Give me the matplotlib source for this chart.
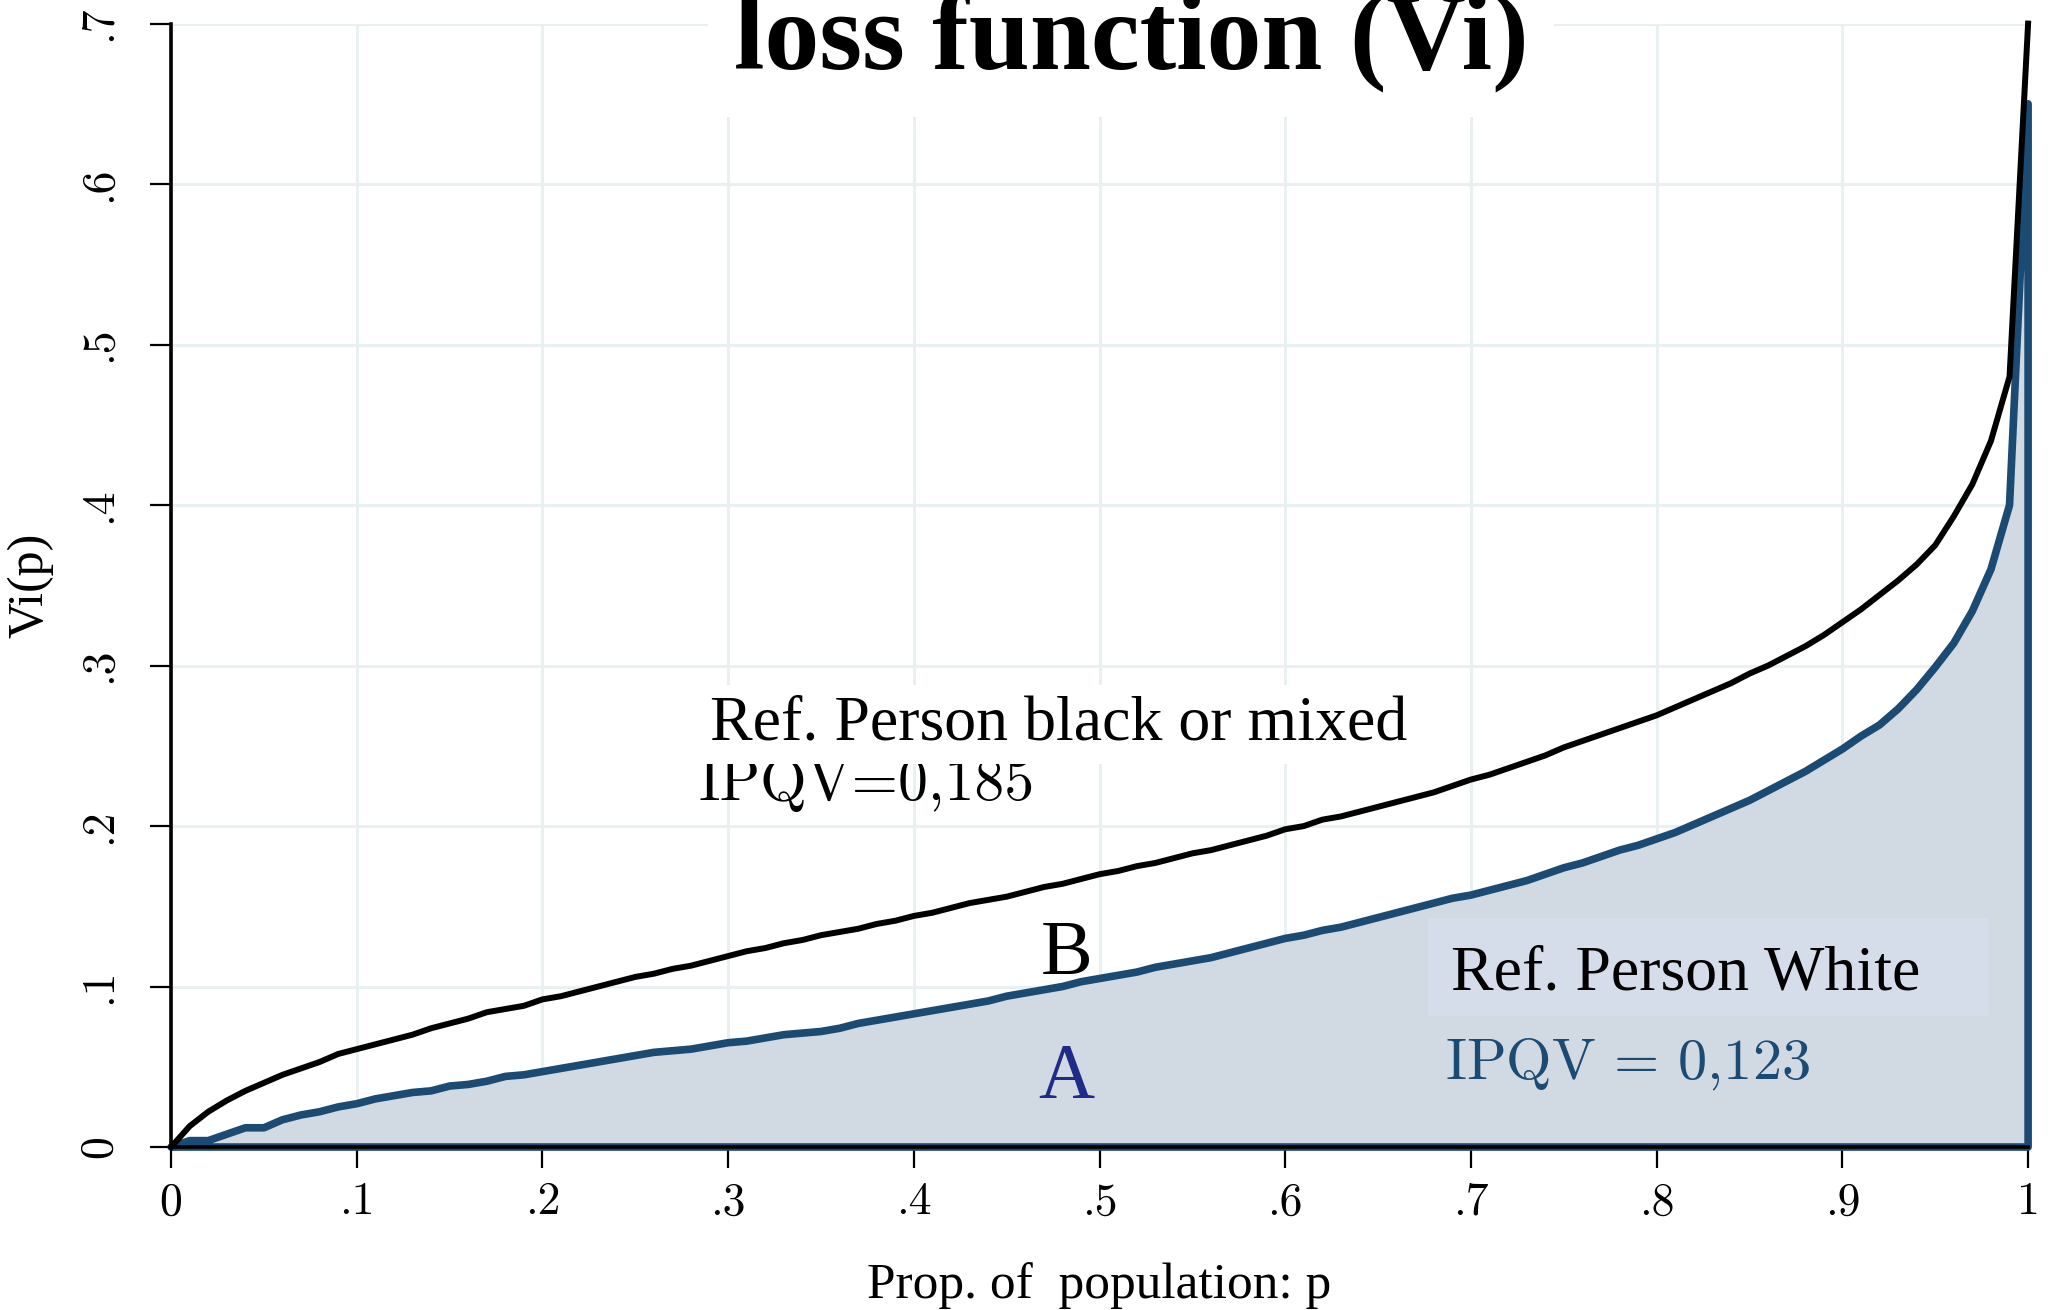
import numpy as np
import matplotlib
matplotlib.use("Agg")
import matplotlib.pyplot as plt
from matplotlib.patches import Rectangle

plt.rcParams["mathtext.fontset"] = "cm"

# proporcion de poblacion (p) y curvas Vi(p)
p = np.round(np.arange(0, 1.0001, 0.01), 2)

vi_negro = [
    0.000, 0.013, 0.022, 0.029, 0.035, 0.040, 0.045, 0.049, 0.053, 0.058,
    0.061, 0.064, 0.067, 0.070, 0.074, 0.077, 0.080, 0.084, 0.086, 0.088,
    0.092, 0.094, 0.097, 0.100, 0.103, 0.106, 0.108, 0.111, 0.113, 0.116,
    0.119, 0.122, 0.124, 0.127, 0.129, 0.132, 0.134, 0.136, 0.139, 0.141,
    0.144, 0.146, 0.149, 0.152, 0.154, 0.156, 0.159, 0.162, 0.164, 0.167,
    0.170, 0.172, 0.175, 0.177, 0.180, 0.183, 0.185, 0.188, 0.191, 0.194,
    0.198, 0.200, 0.204, 0.206, 0.209, 0.212, 0.215, 0.218, 0.221, 0.225,
    0.229, 0.232, 0.236, 0.240, 0.244, 0.249, 0.253, 0.257, 0.261, 0.265,
    0.269, 0.274, 0.279, 0.284, 0.289, 0.295, 0.300, 0.306, 0.312, 0.319,
    0.327, 0.335, 0.344, 0.353, 0.363, 0.375, 0.393, 0.413, 0.440, 0.480,
    0.700,
]

vi_blanco = [
    0.000, 0.004, 0.004, 0.008, 0.012, 0.012, 0.017, 0.020, 0.022, 0.025,
    0.027, 0.030, 0.032, 0.034, 0.035, 0.038, 0.039, 0.041, 0.044, 0.045,
    0.047, 0.049, 0.051, 0.053, 0.055, 0.057, 0.059, 0.060, 0.061, 0.063,
    0.065, 0.066, 0.068, 0.070, 0.071, 0.072, 0.074, 0.077, 0.079, 0.081,
    0.083, 0.085, 0.087, 0.089, 0.091, 0.094, 0.096, 0.098, 0.100, 0.103,
    0.105, 0.107, 0.109, 0.112, 0.114, 0.116, 0.118, 0.121, 0.124, 0.127,
    0.130, 0.132, 0.135, 0.137, 0.140, 0.143, 0.146, 0.149, 0.152, 0.155,
    0.157, 0.160, 0.163, 0.166, 0.170, 0.174, 0.177, 0.181, 0.185, 0.188,
    0.192, 0.196, 0.201, 0.206, 0.211, 0.216, 0.222, 0.228, 0.234, 0.241,
    0.248, 0.256, 0.263, 0.273, 0.285, 0.299, 0.314, 0.334, 0.360, 0.400,
    0.650,
]

x_ticks = [0, 0.1, 0.2, 0.3, 0.4, 0.5, 0.6, 0.7, 0.8, 0.9, 1.0]
x_labels = ["0", ".1", ".2", ".3", ".4", ".5", ".6", ".7", ".8", ".9", "1"]
y_ticks = [0, 0.1, 0.2, 0.3, 0.4, 0.5, 0.6, 0.7]
y_labels = ["0", ".1", ".2", ".3", ".4", ".5", ".6", ".7"]

azul = "#1b4a72"
relleno = "#d1dae3"
serif = "Liberation Serif"

fig = plt.figure(figsize=(20.49, 13.10), dpi=100)
ax = fig.add_axes([0.0835, 0.1244, 0.9063, 0.8576])

# area A (blanco) con contorno cerrado
bx = np.concatenate([p, [p[-1], p[0]]])
by = np.concatenate([vi_blanco, [0, 0]])
ax.fill(bx, by, facecolor=relleno, edgecolor=azul, linewidth=5.5, zorder=2,
        clip_on=False, joinstyle="round")

# curva B (negro o mixto)
ax.plot(p, vi_negro, color="black", linewidth=4.3, zorder=3, clip_on=False)

ax.set_xlim(0, 1)
ax.set_ylim(0, 0.7)
ax.set_xticks(x_ticks)
ax.set_xticklabels(x_labels, family="cmr10", fontsize=33)
ax.set_yticks(y_ticks)
ax.set_yticklabels(y_labels, family="cmr10", fontsize=33, rotation=90, va="center")
ax.tick_params(axis="both", length=15, width=1.6, color="black")
ax.tick_params(axis="x", pad=10)
ax.tick_params(axis="y", pad=22)

ax.grid(True, color="#e8f0f1", linewidth=2.2)
ax.set_axisbelow(True)
for lado in ["top", "right"]:
    ax.spines[lado].set_visible(False)
for lado in ["left", "bottom"]:
    ax.spines[lado].set_linewidth(2.6)
    ax.spines[lado].set_zorder(5)

ax.set_xlabel("Prop. of  population: p", family=serif, fontsize=37, labelpad=28)
ax.set_ylabel("Vi(p)", family=serif, fontsize=36, labelpad=18)

# textos dentro del grafico
ax.text(0.284, 0.2165, "IPQV=0,185", family="cmr10", fontsize=43, zorder=6)
ax.text(0.29, 0.254, "Ref. Person black or mixed", family=serif, fontsize=46, zorder=7,
        bbox=dict(facecolor="white", edgecolor="none", pad=8))
ax.text(0.482, 0.108, "B", family=serif, fontsize=56, ha="center", zorder=6)
ax.text(0.482, 0.031, "A", family=serif, fontsize=56, ha="center", color="#1f2a8a", zorder=6)
ax.add_patch(Rectangle((0.677, 0.0814), 0.302, 0.061, facecolor="#d5dcea",
                       edgecolor="none", zorder=4))
ax.text(0.689, 0.098, "Ref. Person White", family=serif, fontsize=46, zorder=6)
ax.text(0.686, 0.043, r"$\mathrm{IPQV}\,=\,0{,}123$", fontsize=42, color=azul, zorder=6)

fig.text(0.552, 0.948, "loss function (Vi)", family=serif, fontweight="bold",
         fontsize=79, ha="center", va="baseline", zorder=8,
         bbox=dict(facecolor="white", edgecolor="none", pad=18))

fig.savefig("out.png", dpi=100)
